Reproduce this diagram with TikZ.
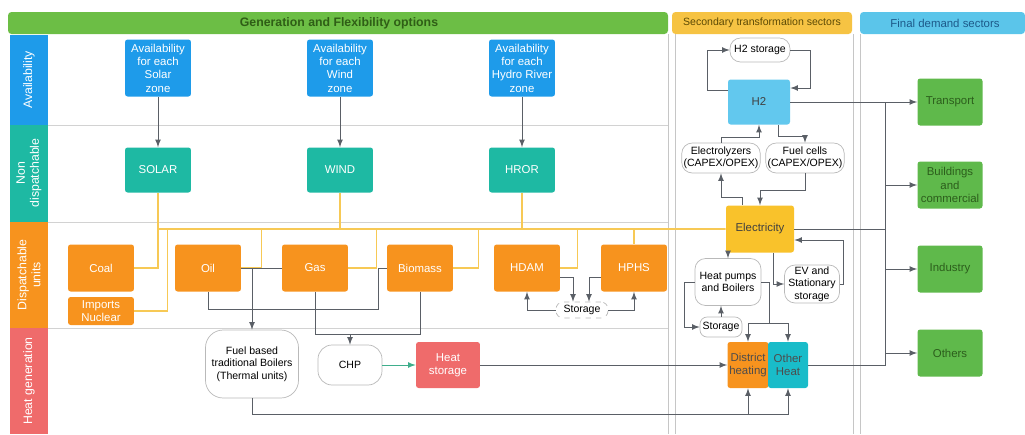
\documentclass[tikz,border=0pt]{standalone}
\usepackage{fontspec}
\setmainfont{Liberation Sans}
\usepackage{tikz}
\usetikzlibrary{positioning}

\definecolor{gengreen}{HTML}{6CBE45}
\definecolor{gendark}{HTML}{2F5E16}
\definecolor{secyellow}{HTML}{F6C343}
\definecolor{secdark}{HTML}{5C4A05}
\definecolor{finblue}{HTML}{5BC5EA}
\definecolor{findarkblue}{HTML}{1D5A8A}
\definecolor{availblue}{HTML}{1E9BEA}
\definecolor{ndteal}{HTML}{1EB9A3}
\definecolor{disporange}{HTML}{F7931E}
\definecolor{heatpink}{HTML}{EF6B6B}
\definecolor{htwoblue}{HTML}{62C8EE}
\definecolor{elecyellow}{HTML}{F9C22B}
\definecolor{fingreen}{HTML}{5FB94B}
\definecolor{findark}{HTML}{2C5E1C}
\definecolor{ohteal}{HTML}{19BCC9}
\definecolor{linkgrey}{HTML}{5A5F66}
\definecolor{busyellow}{HTML}{F7C955}
\definecolor{chpgreen}{HTML}{3FAE8C}

\begin{document}
\begin{tikzpicture}[x=0.02cm,y=-0.02cm,
    box/.style={rectangle,rounded corners=1.5pt,text=white,align=center,inner sep=1pt,font=\fontsize{6.5}{7.6}\selectfont},
    avail/.style={box,fill=availblue,minimum width=1.32cm,minimum height=1.14cm},
    nondisp/.style={box,fill=ndteal,minimum width=1.32cm,minimum height=0.9cm},
    disp/.style={box,fill=disporange,minimum width=1.32cm,minimum height=0.94cm},
    final/.style={box,fill=fingreen,text=findark,minimum width=1.3cm,minimum height=0.94cm},
    soft/.style={rectangle,rounded corners=6pt,draw=gray!55,fill=white,align=center,inner sep=1pt,font=\fontsize{6}{7}\selectfont},
    lane/.style={text=white,align=center,rotate=90,font=\fontsize{7}{8}\selectfont},
    link/.style={draw=linkgrey,line width=0.5pt},
    bus/.style={draw=busyellow,line width=0.9pt},
    >=latex]
    \useasboundingbox (0,0) rectangle (1025,434);

    % headers and panels
    \fill[gengreen,rounded corners=2pt] (8,12) rectangle (668,34);
    \fill[secyellow,rounded corners=2pt] (672,12) rectangle (852,34);
    \fill[finblue,rounded corners=2pt] (860,12) rectangle (1025,34);
    \node[font=\fontsize{7}{8}\selectfont\bfseries,text=gendark] (hgen) at (339,23) {Generation and Flexibility options};
    \node[font=\fontsize{6}{7}\selectfont,text=secdark] (hsec) at (762,23) {Secondary transformation sectors};
    \node[font=\fontsize{6.5}{7.5}\selectfont,text=findarkblue] (hfin) at (945,23) {Final demand sectors};
    \foreach \x in {668,675,853,860} \draw[gray!45] (\x,34) -- (\x,434);
    \foreach \y in {125,222,328} \draw[gray!35] (48,\y) -- (668,\y);

    % lanes
    \fill[availblue] (10,35) rectangle (48,125);
    \fill[ndteal] (10,125) rectangle (48,222);
    \fill[disporange] (10,222) rectangle (48,328);
    \fill[heatpink] (10,328) rectangle (48,434);
    \node[lane] (lavail) at (29,80) {Availability};
    \node[lane] (lnondisp) at (29,173) {Non\\dispatchable};
    \node[lane] (ldisp) at (29,275) {Dispatchable\\units};
    \node[lane] (lheat) at (29,381) {Heat generation};

    % generation and flexibility options
    \node[avail] (avsolar) at (158,68) {Availability\\for each\\Solar\\zone};
    \node[avail] (avwind) at (340,68) {Availability\\for each\\Wind\\zone};
    \node[avail] (avhror) at (522,68) {Availability\\for each\\Hydro River\\zone};
    \node[nondisp] (solar) at (158,170) {SOLAR};
    \node[nondisp] (wind) at (340,170) {WIND};
    \node[nondisp] (hror) at (522,170) {HROR};
    \node[disp] (coal) at (101,268) {Coal};
    \node[disp,minimum height=0.56cm] (nuclear) at (101,311) {Imports\\Nuclear};
    \node[disp] (oil) at (208,268) {Oil};
    \node[disp] (gas) at (315,268) {Gas};
    \node[disp] (biomass) at (420,268) {Biomass};
    \node[disp] (hdam) at (527,268) {HDAM};
    \node[disp] (hphs) at (634,268) {HPHS};
    \node[soft,dashed,rounded corners=4pt,minimum width=1.04cm,minimum height=0.32cm] (stor) at (582,310) {Storage};
    \node[soft,rounded corners=10pt,minimum width=1.86cm,minimum height=1.36cm] (boilers) at (252,364) {Fuel based\\traditional Boilers\\(Thermal units)};
    \node[soft,rounded corners=8pt,minimum width=1.28cm,minimum height=0.8cm] (chp) at (350,365) {CHP};
    \node[box,fill=heatpink,minimum width=1.28cm,minimum height=0.92cm] (heatstor) at (448,365) {Heat\\storage};

    % secondary transformation sectors
    \node[soft,minimum width=1.2cm,minimum height=0.48cm] (h2stor) at (760,50) {H2 storage};
    \node[box,fill=htwoblue,text=black!75,minimum width=1.24cm,minimum height=0.9cm] (htwo) at (759,102) {H2};
    \node[soft,minimum width=1.48cm,minimum height=0.6cm] (electro) at (721,158) {Electrolyzers\\(CAPEX/OPEX)};
    \node[soft,minimum width=1.48cm,minimum height=0.6cm] (fuelcell) at (805,158) {Fuel cells\\(CAPEX/OPEX)};
    \node[box,fill=elecyellow,text=black!75,minimum width=1.36cm,minimum height=0.94cm] (elec) at (760,229) {Electricity};
    \node[soft,minimum width=1.32cm,minimum height=0.94cm] (heatpump) at (728,282) {Heat pumps\\and Boilers};
    \node[soft,minimum width=1.1cm,minimum height=0.76cm] (evstor) at (812,284) {EV and\\Stationary\\storage};
    \node[soft,rounded corners=4pt,minimum width=0.84cm,minimum height=0.4cm] (hstor) at (721,327) {Storage};
    \node[box,fill=disporange,text=black!70,minimum width=0.8cm,minimum height=0.92cm] (dh) at (748,365) {District\\heating};
    \node[box,fill=ohteal,text=black!70,minimum width=0.8cm,minimum height=0.92cm] (oh) at (788,365) {Other\\Heat};

    % final demand sectors
    \node[final] (transport) at (950,102) {Transport};
    \node[final] (buildings) at (950,185) {Buildings\\and\\commercial};
    \node[final] (industry) at (950,269) {Industry};
    \node[final] (others) at (950,353) {Others};

    % availability links
    \draw[link,->] (avsolar) -- (solar);
    \draw[link,->] (avwind) -- (wind);
    \draw[link,->] (avhror) -- (hror);

    % electricity bus
    \path (solar.south) ++(0,36) coordinate (busL);
    \draw[bus] (busL) -- (elec.west);
    \draw[bus] (solar.south) -- (busL);
    \draw[bus] (wind.south) |- (busL);
    \draw[bus] (hror.south) |- (busL);
    \draw[bus] (coal.east) -| (busL);
    \draw[bus] (nuclear.east) -- ++(33,0) |- (busL);
    \draw[bus] (oil.east) -- ++(20,0) |- (busL);
    \draw[bus] (gas.east) -- ++(28,0) |- (busL);
    \draw[bus] (biomass.east) -- ++(25,0) |- (busL);
    \draw[bus] (hdam.east) -- ++(17,0) |- (busL);
    \draw[bus] (hphs.north) |- (busL);

    % fuel links
    \draw[link] (oil.east) -- (gas.west);
    \draw[link,->] (oil.east -| boilers.north) -- (boilers.north);
    \draw[link] (oil.south) -- ++(0,18) -| ([xshift=-0.16cm]biomass.west) -- (biomass.west);
    \path (gas.south) ++(0,43) coordinate (gasdown);
    \draw[link] (gas.south) -- (gasdown) -| (biomass.south);
    \draw[link,->] (gasdown -| chp.north) -- (chp.north);
    \draw[link,->,chpgreen] (chp.east) -- (heatstor.west);

    % hydro storage
    \draw[link,->] ([yshift=-0.18cm]hdam.east) -| ([xshift=-0.18cm]stor.north);
    \draw[link,->] ([yshift=-0.18cm]hphs.west) -| ([xshift=0.14cm]stor.north);
    \draw[link,->] (stor.west) -| (hdam.south);
    \draw[link,->] (stor.east) -| (hphs.south);

    % heat to district and other heat
    \draw[link,->] (heatstor.east) -- (dh.west);
    \path (boilers.south) ++(0,16) coordinate (hbus);
    \draw[link,->] (boilers.south) -- (hbus) -| (oh.south);
    \draw[link,->] (hbus -| dh.south) -- (dh.south);

    % hydrogen
    \draw[link,->] ([yshift=0.24cm]htwo.west) -- ++(-20,0) |- (h2stor.west);
    \draw[link,->] (h2stor.east) -- ++(20,0) |- ([yshift=0.28cm]htwo.east);
    \draw[link,->] (electro.north) -- ++(0,-5) -| (htwo.south);
    \draw[link,->] ([xshift=0.38cm]htwo.south) -- ++(0,12) -| (fuelcell.north);
    \draw[link,->] (fuelcell.south) -- ++(0,17) -| (elec.north);
    \draw[link,->] ([xshift=-0.36cm]elec.north) -- ++(0,-8) -| (electro.south);

    % electricity uses
    \draw[link,->] (elec.south -| heatpump.north) -- (heatpump.north);
    \draw[link,->] ([xshift=0.26cm]elec.south) |- (evstor.west);
    \draw[link,->] (evstor.east) -- ++(4,0) |- ([yshift=-0.22cm]elec.east);
    \draw[link,->] (heatpump.east) -- ++(8,0) |- ([yshift=0.36cm]oh.north) coordinate (hpsplit) -- (oh.north);
    \draw[link,->] (hpsplit) -| (dh.north);
    \draw[link,->] (heatpump.west) -- ++(-10,0) |- (hstor.west);
    \draw[link,->] (hstor.north) -- (hstor.north |- heatpump.south);

    % final demand
    \path (transport.west) ++(-32,0) coordinate (trunk);
    \draw[link,->] (htwo.east) -- (transport.west);
    \draw[link] (trunk) |- (oh.east);
    \draw[link] (elec.east) -- (elec.east -| trunk);
    \draw[link,->] (trunk |- buildings.west) -- (buildings.west);
    \draw[link,->] (trunk |- industry.west) -- (industry.west);
    \draw[link,->] (trunk |- others.west) -- (others.west);
\end{tikzpicture}
\end{document}
